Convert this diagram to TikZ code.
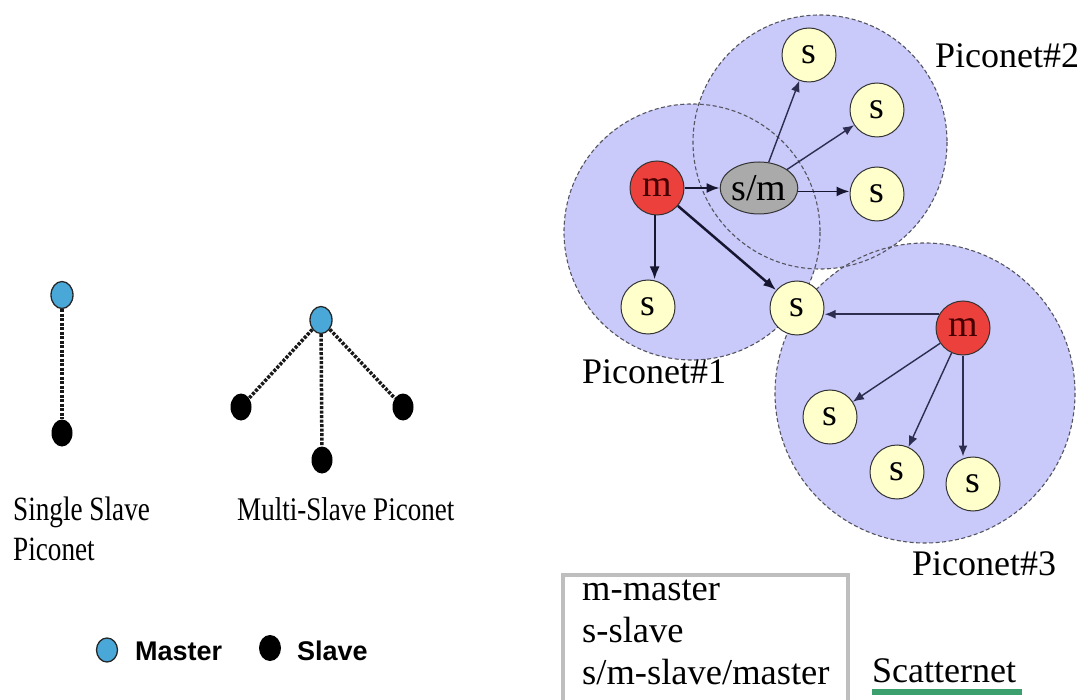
\documentclass[tikz,border=0pt]{standalone}
\usepackage{fontspec}
\setmainfont{Liberation Serif}
\newfontfamily\condA[FakeStretch=0.8]{Liberation Serif}
\newfontfamily\condB[FakeStretch=0.82]{Liberation Serif}
\newfontfamily\lsans{Liberation Sans}
\usetikzlibrary{shapes.geometric,arrows.meta}
\definecolor{lav}{RGB}{201,201,250}
\definecolor{bluem}{RGB}{74,168,216}
\definecolor{sfill}{RGB}{255,255,204}
\definecolor{mfill}{RGB}{236,64,60}
\definecolor{smfill}{RGB}{170,170,170}
\definecolor{arrc}{RGB}{22,22,48}
\definecolor{arrc2}{RGB}{45,45,80}
\definecolor{pline}{RGB}{85,85,95}
\definecolor{boxc}{RGB}{190,190,190}
\definecolor{scgreen}{RGB}{60,160,110}
\begin{document}
\begin{tikzpicture}[x=1pt,y=-1pt,
  bmaster/.style={ellipse,draw=black!85,line width=1.3pt,fill=bluem,minimum width=22pt,minimum height=27pt,inner sep=0pt},
  bslave/.style={ellipse,fill=black,minimum width=21pt,minimum height=27pt,inner sep=0pt},
  dotl/.style={line width=3.5pt,dash pattern=on 3pt off 1.5pt,black!90},
  snode/.style={circle,draw=black!80,line width=1pt,fill=sfill,minimum size=54pt,inner sep=0pt,font=\fontsize{38}{40}\selectfont},
  mnode/.style={snode,fill=mfill,text={rgb,255:red,70;green,0;blue,0}},
  smnode/.style={ellipse,draw=black!80,line width=1pt,fill=smfill,minimum width=64pt,minimum height=52pt,inner sep=0pt,font=\fontsize{38}{40}\selectfont},
  picofill/.style={fill=lav},
  picoline/.style={draw=pline,line width=1.1pt,dash pattern=on 4pt off 2.5pt},
  arrA/.style={-{Latex[length=13pt,width=10pt]},line width=2.2pt,arrc},
  arrB/.style={-{Latex[length=11pt,width=9pt]},line width=1.4pt,arrc2},
  lbl/.style={anchor=base west,inner sep=0pt,font=\fontsize{36}{40}\selectfont},
  lblL/.style={anchor=base west,inner sep=0pt,font=\condA\fontsize{34}{40}\selectfont},
  lblM/.style={anchor=base west,inner sep=0pt,font=\condB\fontsize{33}{40}\selectfont},
  leg/.style={anchor=base west,inner sep=0pt,font=\lsans\bfseries\fontsize{27}{30}\selectfont}
]
\useasboundingbox (0,0) rectangle (1089,700);

% ---------- left: single slave piconet ----------
\node[bmaster] (sm1) at (62,295) {};
\node[bslave] (ss1) at (62,433) {};
\draw[dotl] (sm1) -- (ss1);

% ---------- multi-slave piconet ----------
\node[bmaster] (mm) at (321,320) {};
\node[bslave] (ms1) at (241,407) {};
\node[bslave] (ms2) at (322,460) {};
\node[bslave] (ms3) at (403,407) {};
\draw[dotl] (mm) -- (ms1);
\draw[dotl] (mm) -- (ms2);
\draw[dotl] (mm) -- (ms3);

\node[lblL] (tss1) at (13,520) {Single Slave};
\node[lblL] (tss2) at (13,560) {Piconet};
\node[lblM] (tms) at (237,520) {Multi-Slave Piconet};

% legend left
\node[bmaster,minimum width=21pt,minimum height=24pt] (lm) at (107,650) {};
\node[leg] (lmt) at (135,660) {Master};
\node[bslave,minimum width=22pt,minimum height=26pt] (ls) at (270,648) {};
\node[leg] (lst) at (297,660) {Slave};

% ---------- right: scatternet ----------
\path[picofill] (692,232) circle[radius=128];
\path[picofill] (820,142) circle[radius=127];
\path[picofill] (925,393) circle[radius=150];
\path[picoline] (692,232) circle[radius=128];
\path[picoline] (820,142) circle[radius=127];
\path[picoline] (925,393) circle[radius=150];

\node[mnode] (m1) at (657,188) {m};
\node[smnode] (sm) at (759,188) {s/m};
\node[snode] (s2a) at (809,55) {s};
\node[snode] (s2b) at (877,110) {s};
\node[snode] (s2c) at (877,194) {s};
\node[snode] (s1) at (648,307) {s};
\node[snode] (sx) at (797,308) {s};
\node[mnode] (m2) at (963,328) {m};
\node[snode] (s3a) at (830,417) {s};
\node[snode] (s3b) at (897,472) {s};
\node[snode] (s3c) at (973,484) {s};

\draw[arrA] (m1.east) -- (m1.east -| sm.west);
\draw[arrA] (m1.265) -- (m1.265 |- s1.north);
\draw[arrA,line width=2.5pt] (m1) -- (sx);
\draw[arrB] (sm) -- (s2a);
\draw[arrB] (sm) -- (s2b);
\draw[arrA,line width=1.7pt] (sm.-5) -- (sm.-5 -| s2c.west);
\draw[arrB,line width=1.8pt] (m2.150) -- (m2.150 -| sx.east);
\draw[arrB] (m2) -- (s3a);
\draw[arrB] (m2) -- (s3b);
\draw[arrB,line width=1.8pt] (m2.south) -- (m2.south |- s3c.north);

\node[lbl] (p2l) at (935,68) {Piconet\#2};
\node[lbl] (p1l) at (582,383) {Piconet\#1};
\node[lbl] (p3l) at (912,575) {Piconet\#3};

% legend box
\draw[boxc,line width=4pt] (563,712) -- (563,575) -- (848,575) -- (848,712);
\node[lbl,font=\fontsize{36.5}{40}\selectfont] (k1) at (582,600) {m-master};
\node[lbl,font=\fontsize{36.5}{40}\selectfont] (k2) at (582,642) {s-slave};
\node[lbl,font=\fontsize{36.5}{40}\selectfont] (k3) at (582,684) {s/m-slave/master};

\node[lbl,font=\fontsize{36}{40}\selectfont] (sc) at (872,682) {Scatternet};
\fill[scgreen] (872,689) rectangle (1022,695);
\end{tikzpicture}
\end{document}
